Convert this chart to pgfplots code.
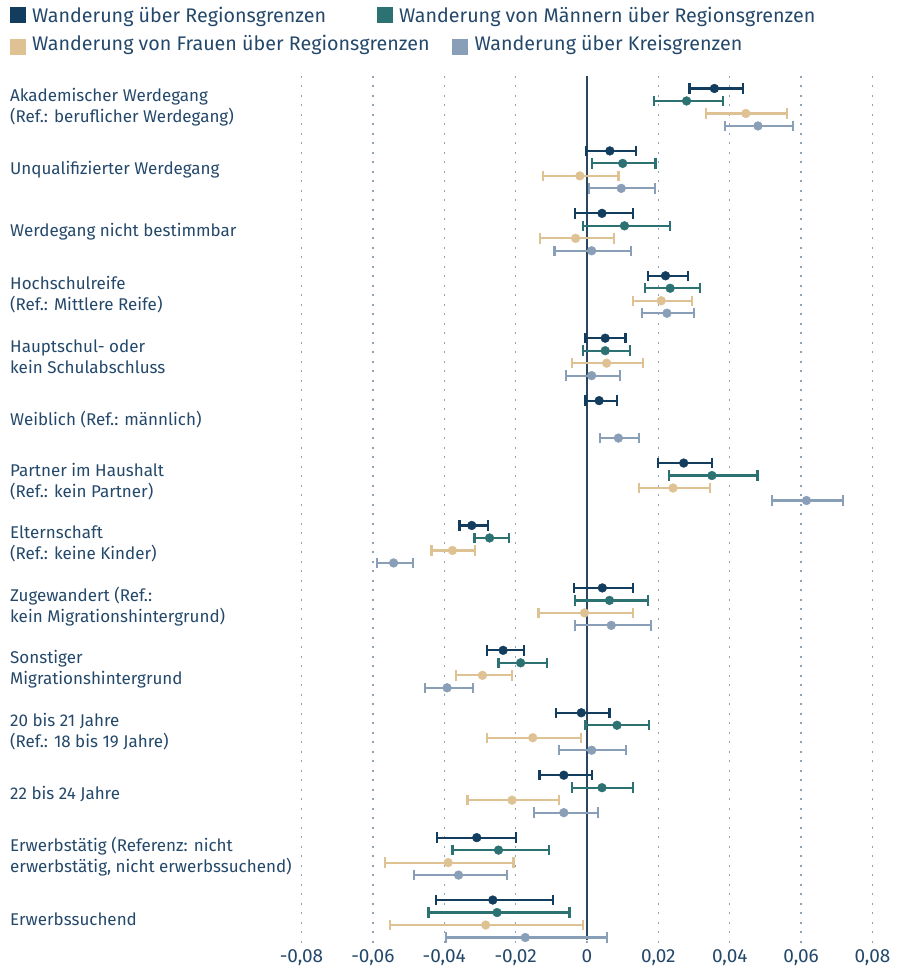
\documentclass[border=0pt]{standalone}
\usepackage{fontspec}
\setmainfont{Fira Sans}
\usepackage{pgfplots}
\pgfplotsset{compat=1.18}
\usepackage{pgfplotstable}
\definecolor{cA}{HTML}{133D5E}
\definecolor{cB}{HTML}{2C7273}
\definecolor{cC}{HTML}{DEC294}
\definecolor{cD}{HTML}{899EB7}
\definecolor{textc}{HTML}{24486A}
\definecolor{gridc}{HTML}{8FA3B8}
\definecolor{zeroc}{HTML}{2A4560}

% y = 5*group + series offset
\pgfplotstableread{
y x lo hi
0 0.0357 0.0287 0.0437
5 0.0064 -0.0003 0.0137
10 0.0042 -0.0033 0.0129
15 0.0220 0.0170 0.0282
20 0.0051 -0.0004 0.0108
25 0.0034 -0.0004 0.0084
30 0.0271 0.0199 0.0350
35 -0.0323 -0.0357 -0.0277
40 0.0043 -0.0037 0.0129
45 -0.0235 -0.0281 -0.0177
50 -0.0016 -0.0086 0.0063
55 -0.0065 -0.0133 0.0013
60 -0.0309 -0.0420 -0.0198
65 -0.0264 -0.0423 -0.0095
}\tabA
\pgfplotstableread{
y x lo hi
1 0.0279 0.0187 0.0382
6 0.0100 0.0013 0.0192
11 0.0105 -0.0012 0.0233
16 0.0233 0.0163 0.0316
21 0.0051 -0.0011 0.0120
31 0.0350 0.0229 0.0478
36 -0.0273 -0.0315 -0.0218
41 0.0063 -0.0033 0.0171
46 -0.0186 -0.0248 -0.0112
51 0.0084 -0.0004 0.0174
56 0.0042 -0.0041 0.0129
61 -0.0248 -0.0377 -0.0107
66 -0.0252 -0.0444 -0.0049
}\tabB
\pgfplotstableread{
y x lo hi
2 0.0445 0.0333 0.0561
7 -0.0020 -0.0124 0.0088
12 -0.0032 -0.0132 0.0076
17 0.0208 0.0129 0.0295
22 0.0055 -0.0041 0.0158
32 0.0241 0.0145 0.0344
37 -0.0377 -0.0436 -0.0314
42 -0.0007 -0.0136 0.0129
47 -0.0293 -0.0368 -0.0211
52 -0.0152 -0.0280 -0.0016
57 -0.0210 -0.0335 -0.0078
62 -0.0389 -0.0567 -0.0206
67 -0.0284 -0.0552 -0.0012
}\tabC
\pgfplotstableread{
y x lo hi
3 0.0479 0.0387 0.0577
8 0.0096 0.0005 0.0191
13 0.0013 -0.0091 0.0124
18 0.0224 0.0154 0.0299
23 0.0013 -0.0058 0.0092
28 0.0088 0.0037 0.0146
33 0.0615 0.0519 0.0717
38 -0.0542 -0.0588 -0.0488
43 0.0068 -0.0033 0.0180
48 -0.0392 -0.0455 -0.0319
53 0.0013 -0.0078 0.0109
58 -0.0065 -0.0149 0.0030
63 -0.0360 -0.0485 -0.0224
68 -0.0173 -0.0395 0.0055
}\tabD

\pgfplotsset{
  ci/.style={only marks, mark=*, mark size=4.4bp, color=#1, mark options={fill=#1, draw=#1},
    error bars/.cd, x dir=both, x explicit, error mark=|,
    error bar style={line width=2.2bp, color=#1},
    error mark options={line width=2.2bp, mark size=5.2bp, color=#1}},
}

\begin{document}
\begin{tikzpicture}
\path[use as bounding box] (0,0) rectangle (897bp,973bp);
\begin{axis}[
  at={(301.5bp,28bp)}, anchor=south west,
  scale only axis, width=571bp, height=869bp,
  xmin=-0.08, xmax=0.08, ymin=-1, ymax=68.6, y dir=reverse,
  clip=false,
  scaled x ticks=false, scaled y ticks=false,
  axis line style={draw=none},
  tick style={draw=none},
  xtick={-0.08,-0.06,-0.04,-0.02,0,0.02,0.04,0.06,0.08},
  xticklabels={{-0,08},{-0,06},{-0,04},{-0,02},{0},{0,02},{0,04},{0,06},{0,08}},
  xmajorgrids,
  grid style={color=gridc, line width=1.3bp, dash pattern=on 2bp off 7.5bp},
  xticklabel style={font=\fontsize{19bp}{23bp}\selectfont, text=textc, inner sep=0pt, yshift=-4bp},
  ytick={1.5,6.5,11.5,16.5,21.5,26.5,31.5,36.5,41.5,46.5,51.5,56.5,61.5,66.5},
  yticklabels={
    {Akademischer Werdegang\\(Ref.: beruflicher Werdegang)},
    {Unqualifizierter Werdegang},
    {Werdegang nicht bestimmbar},
    {Hochschulreife\\(Ref.: Mittlere Reife)},
    {Hauptschul- oder\\kein Schulabschluss},
    {Weiblich (Ref.: männlich)},
    {Partner im Haushalt\\(Ref.: kein Partner)},
    {Elternschaft\\(Ref.: keine Kinder)},
    {Zugewandert (Ref.:\\kein Migrationshintergrund)},
    {Sonstiger\\Migrationshintergrund},
    {20 bis 21 Jahre\\(Ref.: 18 bis 19 Jahre)},
    {22 bis 24 Jahre},
    {Erwerbstätig (Referenz: nicht\\erwerbstätig, nicht erwerbssuchend)},
    {Erwerbssuchend}},
  yticklabel style={anchor=west, align=left, xshift=-291.5bp, inner sep=0pt,
    font=\fontsize{17bp}{21bp}\selectfont, text=textc},
]
\addplot[color=zeroc, line width=1.3bp, forget plot] coordinates {(0,-1) (0,68.2)};
\addplot[ci=cD] table[x=x, y=y, x error plus expr=\thisrow{hi}-\thisrow{x}, x error minus expr=\thisrow{x}-\thisrow{lo}] {\tabD};
\addplot[ci=cC] table[x=x, y=y, x error plus expr=\thisrow{hi}-\thisrow{x}, x error minus expr=\thisrow{x}-\thisrow{lo}] {\tabC};
\addplot[ci=cB] table[x=x, y=y, x error plus expr=\thisrow{hi}-\thisrow{x}, x error minus expr=\thisrow{x}-\thisrow{lo}] {\tabB};
\addplot[ci=cA] table[x=x, y=y, x error plus expr=\thisrow{hi}-\thisrow{x}, x error minus expr=\thisrow{x}-\thisrow{lo}] {\tabA};
\end{axis}
% legend
\begin{scope}[every node/.style={anchor=base west, inner sep=0pt, text=textc, font=\fontsize{19.7bp}{23bp}\selectfont}]
\fill[cA] (10bp,950.3bp) rectangle (26bp,965.7bp);
\node at (32bp,950.5bp) {Wanderung über Regionsgrenzen};
\fill[cB] (376.5bp,950.3bp) rectangle (392.5bp,965.7bp);
\node at (399bp,950.5bp) {Wanderung von Männern über Regionsgrenzen};
\fill[cC] (10bp,918.3bp) rectangle (26bp,933.7bp);
\node at (32bp,922bp) {Wanderung von Frauen über Regionsgrenzen};
\fill[cD] (452bp,918.3bp) rectangle (468bp,933.7bp);
\node at (474.5bp,922bp) {Wanderung über Kreisgrenzen};
\end{scope}
\end{tikzpicture}
\end{document}
